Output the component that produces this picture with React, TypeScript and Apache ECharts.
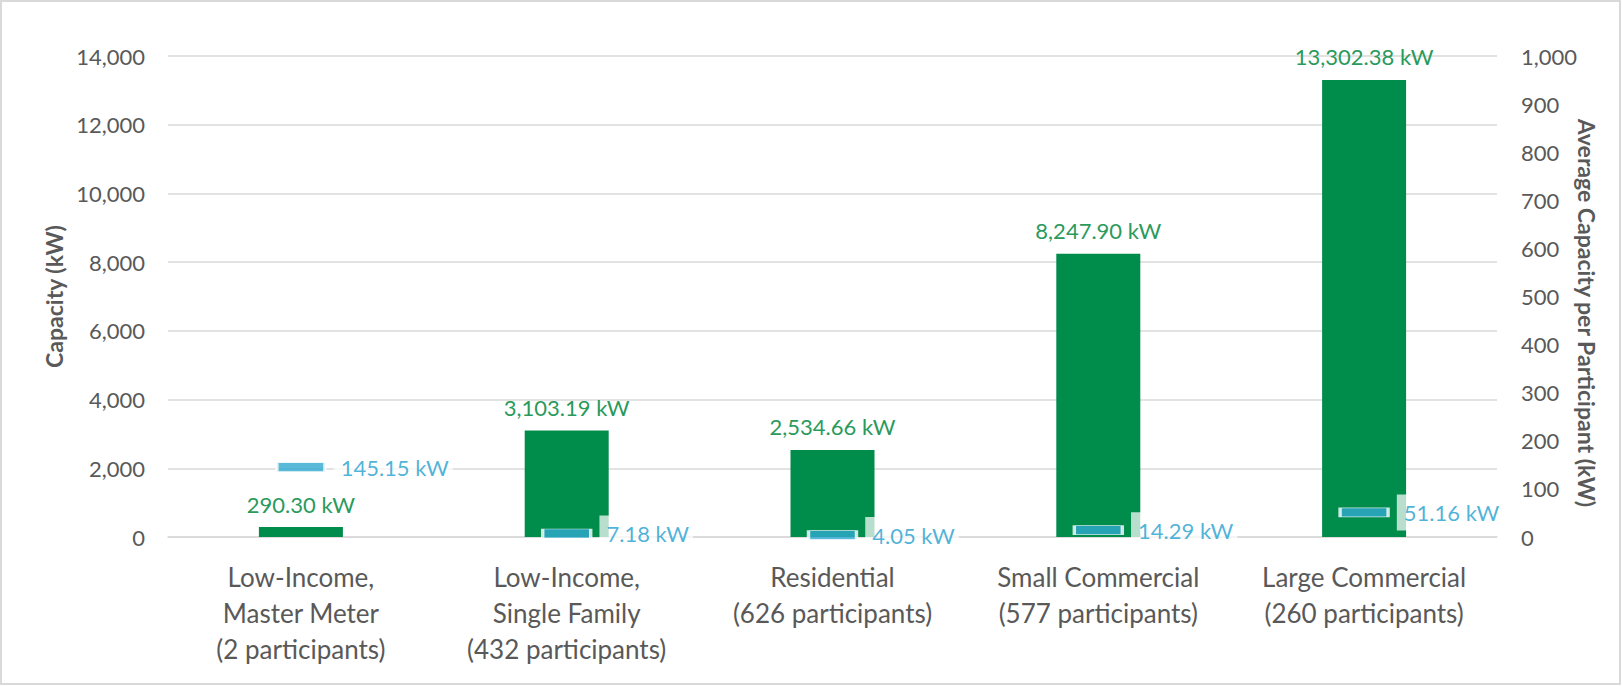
import React, { useEffect, useRef } from "react";
import * as echarts from "echarts";

const categories = [
  "Low-Income,\nMaster Meter\n(2 participants)",
  "Low-Income,\nSingle Family\n(432 participants)",
  "Residential\n(626 participants)",
  "Small Commercial\n(577 participants)",
  "Large Commercial\n(260 participants)",
];
const capacity = [290.3, 3103.19, 2534.66, 8247.9, 13302.38];
const avgCapacity = [145.15, 7.18, 4.05, 14.29, 51.16];
const leftAxisName = "Capacity (kW)";
const rightAxisName = "Average Capacity per Participant (kW)";

const FONT = "Lato, 'Open Sans', sans-serif";
const fmtKW = (v: number) =>
  v.toLocaleString("en-US", { minimumFractionDigits: 2, maximumFractionDigits: 2 }) + " kW";
const fmtInt = (v: number) => v.toLocaleString("en-US");

export default function App() {
  const ref = useRef<HTMLDivElement>(null);
  useEffect(() => {
    if (!ref.current) return;
    const chart = echarts.init(ref.current, null, { renderer: "svg" });
    chart.setOption({
      animation: false,
      backgroundColor: "#ffffff",
      textStyle: { fontFamily: FONT },
      grid: { left: 168, right: 125, top: 56, bottom: 149, containLabel: false },
      graphic: [
        {
          type: "rect",
          shape: { x: 1, y: 1, width: 1619, height: 683 },
          style: { fill: "none", stroke: "#d9d9d9", lineWidth: 2 },
          silent: true,
        },
        {
          type: "text",
          x: 1587,
          y: 313,
          rotation: -Math.PI / 2,
          style: {
            text: rightAxisName,
            fontFamily: FONT,
            fontSize: 23,
            fontWeight: "bold",
            fill: "#595959",
            textAlign: "center",
            textVerticalAlign: "middle",
          },
        },
      ],
      xAxis: {
        type: "category",
        data: categories,
        axisTick: { show: false },
        axisLine: { lineStyle: { color: "#d9d9d9", width: 1.5 } },
        axisLabel: {
          color: "#595959",
          fontSize: 26,
          fontFamily: FONT,
          lineHeight: 36,
          margin: 22,
          verticalAlign: "top",
          interval: 0,
        },
      },
      yAxis: [
        {
          type: "value",
          min: 0,
          max: 14000,
          interval: 2000,
          name: leftAxisName,
          nameLocation: "middle",
          nameRotate: 90,
          nameGap: 97,
          nameTextStyle: { color: "#595959", fontSize: 23, fontWeight: "bold", fontFamily: FONT },
          axisLine: { show: false },
          axisTick: { show: false },
          axisLabel: { color: "#595959", fontSize: 22, fontFamily: FONT, margin: 23, formatter: fmtInt },
          splitLine: { lineStyle: { color: "#d9d9d9", width: 1.5 } },
        },
        {
          type: "value",
          min: 0,
          max: 1000,
          interval: 100,
          position: "right",
          axisLine: { show: false },
          axisTick: { show: false },
          axisLabel: { color: "#595959", fontSize: 22, fontFamily: FONT, margin: 24, formatter: fmtInt },
          splitLine: { show: false },
        },
      ],
      series: [
        {
          type: "bar",
          yAxisIndex: 0,
          data: capacity,
          barWidth: 84,
          itemStyle: { color: "#008c4b" },
          label: {
            show: true,
            position: "top",
            distance: 12,
            color: "#2a9a5c",
            fontSize: 22,
            fontFamily: FONT,
            formatter: (p: any) => fmtKW(p.value),
          },
          z: 2,
        },
        {
          type: "scatter",
          yAxisIndex: 1,
          data: avgCapacity,
          symbol: "rect",
          symbolSize: [48, 9],
          itemStyle: { color: "#31a9d1", borderColor: "#ffffff", borderWidth: 1.5 },
          label: {
            show: true,
            position: "right",
            distance: 7,
            color: "#1f9fcf",
            fontSize: 22,
            fontFamily: FONT,
            backgroundColor: "rgba(255,255,255,0.9)",
            padding: [7, 4, 7, 7],
            formatter: (p: any) => fmtKW(p.value),
          },
          z: 5,
        },
      ],
    });
    return () => chart.dispose();
  }, []);
  return (
    <div
      ref={ref}
      style={{ position: "fixed", left: 0, top: 0, width: 1622, height: 686 }}
    />
  );
}
